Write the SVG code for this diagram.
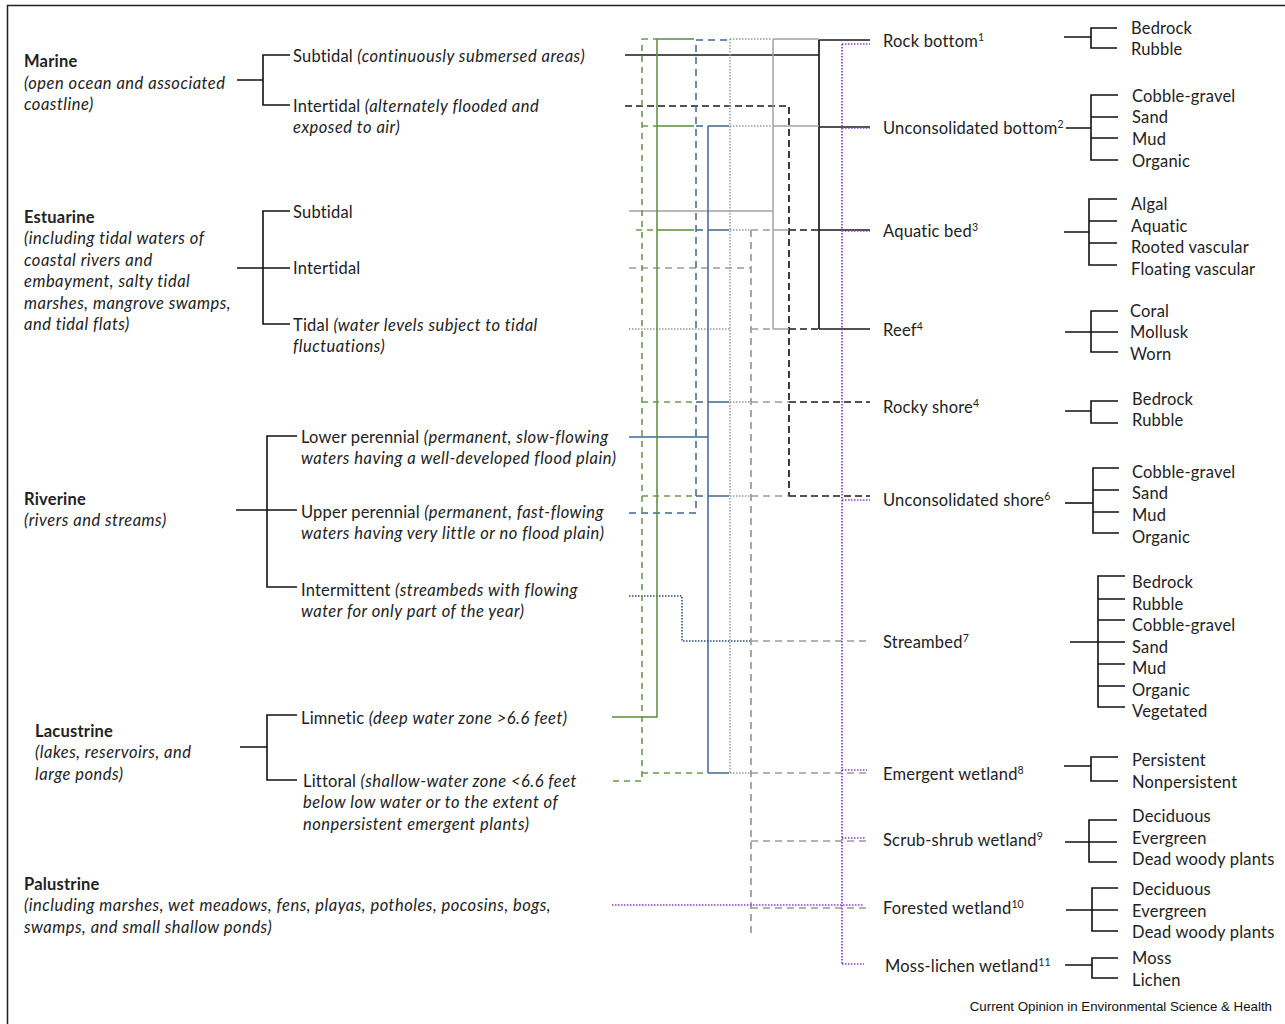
<svg xmlns="http://www.w3.org/2000/svg" width="1285" height="1024" viewBox="0 0 1285 1024">
<style>
.t{font-family:Lato,"Liberation Sans",sans-serif;font-size:16.5px;letter-spacing:0.2px;fill:#222}
.b{font-weight:bold}
.i{font-style:italic;letter-spacing:0.5px}
.sup{font-size:10.5px;letter-spacing:0}
.br{fill:none;stroke:#111;stroke-width:1.6}
.c{fill:none;stroke-width:1.5}
.ks{stroke:#1a1a1a;stroke-width:1.7}
.kd{stroke:#1a1a1a;stroke-width:1.7;stroke-dasharray:7 4}
.gs{stroke:#a3a3a3}
.gd{stroke:#9a9a9a;stroke-width:1.7;stroke-dasharray:7 5}
.gt{stroke:#9a9a9a;stroke-dasharray:1.5 1.5}
.bs{stroke:#3e6892}
.bd{stroke:#3e6892;stroke-dasharray:7 5}
.bt{stroke:#2a4a7c;stroke-dasharray:1.5 1.5}
.es{stroke:#5b8c3a}
.ed{stroke:#6a9a45;stroke-width:1.6;stroke-dasharray:6 5}
.pt{stroke:#8a3fd0;stroke-width:1.7;stroke-dasharray:1.5 1.5}
</style>
<rect x="7.5" y="5.5" width="1290" height="1030" fill="#fff" stroke="#222" stroke-width="1.5"/>

<g id="connectors">
  <!-- Marine subtidal: black solid -->
  <path class="c ks" d="M625,55 H819 M819,40 V329 M819,40 H870 M819,127 H870 M819,230 H870 M819,329 H870"/>
  <!-- Marine intertidal: black dashed -->
  <path class="c kd" d="M625,106 H789 V496 M789,230 H819 M789,329 H819 M789,402 H870 M789,496 H870"/>
  <!-- Estuarine subtidal: gray solid -->
  <path class="c gs" d="M629,211 H773 M773,39 V329 M773,39 H819 M773,126 H819 M773,230 H789 M773,329 H789"/>
  <!-- Estuarine intertidal: gray dashed -->
  <path class="c gd" d="M629,268 H751 M751,230 V935 M751,230 H773 M751,329 H773 M751,402 H789 M751,496 H789 M751,641 H870 M751,773 H870 M751,841 H870 M751,908 H870"/>
  <!-- Estuarine tidal: gray dotted -->
  <path class="c gt" d="M629,329 H730 M730,39 V773 M730,39 H772 M730,126 H772 M730,230 H751 M730,402 H751 M730,496 H751 M730,773 H751"/>
  <!-- Riverine lower perennial: blue solid -->
  <path class="c bs" d="M629,437 H708 M708,126 V773 M708,126 H729 M708,230 H729 M708,402 H729 M708,496 H729 M708,773 H729"/>
  <!-- Riverine upper perennial: blue dashed -->
  <path class="c bd" d="M629,513 H696 V40 M696,40 H729 M696,126 H708 M696,230 H708 M696,402 H708 M696,496 H708"/>
  <!-- Riverine intermittent: blue dotted -->
  <path class="c bt" d="M629,596 H682 V641 H750"/>
  <!-- Lacustrine limnetic: green solid -->
  <path class="c es" d="M612,717 H657 V39 M657,39 H694 M657,126 H694 M657,230 H694"/>
  <!-- Lacustrine littoral: green dashed -->
  <path class="c ed" d="M613,781 H642 V39 M642,39 H657 M642,126 H657 M636,230 H657 M642,402 H696 M642,496 H696 M642,773 H704"/>
  <!-- Palustrine: purple dotted -->
  <path class="c pt" d="M612,905 H864 M842,44 V964 M842,44 H870 M842,128 H870 M842,231 H870 M842,500 H870 M842,770 H867 M842,838 H866 M842,964 H864"/>
</g>

<g id="marine">
  <text class="t b" x="24" y="67">Marine</text>
  <text class="t i" x="24" y="88.5">(open ocean and associated</text>
  <text class="t i" x="24" y="110">coastline)</text>
  <path class="br" d="M237,80 H263 M290,55 H263 V105 H290"/>
  <text class="t" x="293" y="61.5">Subtidal <tspan class="i">(continuously submersed areas)</tspan></text>
  <text class="t" x="293" y="111.5">Intertidal <tspan class="i">(alternately flooded and</tspan></text>
  <text class="t i" x="293" y="133">exposed to air)</text>
</g>

<g id="estuarine">
  <text class="t b" x="24" y="222.5">Estuarine</text>
  <text class="t i" x="24" y="244">(including tidal waters of</text>
  <text class="t i" x="24" y="265.5">coastal rivers and</text>
  <text class="t i" x="24" y="287">embayment, salty tidal</text>
  <text class="t i" x="24" y="308.5">marshes, mangrove swamps,</text>
  <text class="t i" x="24" y="330">and tidal flats)</text>
  <path class="br" d="M237,268 H290 M290,211 H263 V324 H290"/>
  <text class="t" x="293" y="217.5">Subtidal</text>
  <text class="t" x="293" y="273.5">Intertidal</text>
  <text class="t" x="293" y="330.5">Tidal <tspan class="i">(water levels subject to tidal</tspan></text>
  <text class="t i" x="293" y="352">fluctuations)</text>
</g>

<g id="riverine">
  <text class="t b" x="24" y="504.5">Riverine</text>
  <text class="t i" x="24" y="526">(rivers and streams)</text>
  <path class="br" d="M236,510 H297 M297,436 H267 V587 H297"/>
  <text class="t" x="301" y="442.5">Lower perennial <tspan class="i">(permanent, slow-flowing</tspan></text>
  <text class="t i" x="301" y="464">waters having a well-developed flood plain)</text>
  <text class="t" x="301" y="517.5">Upper perennial <tspan class="i">(permanent, fast-flowing</tspan></text>
  <text class="t i" x="301" y="539">waters having very little or no flood plain)</text>
  <text class="t" x="301" y="595.5">Intermittent <tspan class="i">(streambeds with flowing</tspan></text>
  <text class="t i" x="301" y="617">water for only part of the year)</text>
</g>

<g id="lacustrine">
  <text class="t b" x="35" y="736.5">Lacustrine</text>
  <text class="t i" x="35" y="758">(lakes, reservoirs, and</text>
  <text class="t i" x="35" y="779.5">large ponds)</text>
  <path class="br" d="M240,747 H267 M297,715 H267 V780 H297"/>
  <text class="t" x="301" y="723.5">Limnetic <tspan class="i">(deep water zone &gt;6.6 feet)</tspan></text>
  <text class="t" x="303" y="786.5">Littoral <tspan class="i">(shallow-water zone &lt;6.6 feet</tspan></text>
  <text class="t i" x="303" y="808">below low water or to the extent of</text>
  <text class="t i" x="303" y="829.5">nonpersistent emergent plants)</text>
</g>

<g id="palustrine">
  <text class="t b" x="24" y="889.5">Palustrine</text>
  <text class="t i" x="24" y="911">(including marshes, wet meadows, fens, playas, potholes, pocosins, bogs,</text>
  <text class="t i" x="24" y="932.5">swamps, and small shallow ponds)</text>
</g>

<g id="rock-bottom">
  <text class="t" x="883" y="46.5">Rock bottom<tspan class="sup" dy="-6">1</tspan></text>
  <path class="br" d="M1064,37 H1091 M1117,28 H1091 V48 H1117"/>
  <text class="t" x="1131" y="33.5">Bedrock</text>
  <text class="t" x="1131" y="54.5">Rubble</text>
</g>

<g id="unconsolidated-bottom">
  <text class="t" x="883" y="133.5">Unconsolidated bottom<tspan class="sup" dy="-6">2</tspan></text>
  <path class="br" d="M1066,128 H1091 M1118,95 H1091 V160 H1118 M1091,117 H1118 M1091,138 H1118"/>
  <text class="t" x="1132" y="101.5">Cobble-gravel</text>
  <text class="t" x="1132" y="122.5">Sand</text>
  <text class="t" x="1132" y="144.5">Mud</text>
  <text class="t" x="1132" y="166.5">Organic</text>
</g>

<g id="aquatic-bed">
  <text class="t" x="883" y="236.5">Aquatic bed<tspan class="sup" dy="-6">3</tspan></text>
  <path class="br" d="M1064,232 H1089 M1117,199 H1089 V265 H1117 M1089,221 H1117 M1089,243 H1117"/>
  <text class="t" x="1131" y="209.5">Algal</text>
  <text class="t" x="1131" y="231.5">Aquatic</text>
  <text class="t" x="1131" y="252.5">Rooted vascular</text>
  <text class="t" x="1131" y="274.5">Floating vascular</text>
</g>

<g id="reef">
  <text class="t" x="883" y="335.5">Reef<tspan class="sup" dy="-6">4</tspan></text>
  <path class="br" d="M1065,332 H1118 M1118,311 H1091 V352 H1118"/>
  <text class="t" x="1130" y="316.5">Coral</text>
  <text class="t" x="1130" y="337.5">Mollusk</text>
  <text class="t" x="1130" y="359.5">Worn</text>
</g>

<g id="rocky-shore">
  <text class="t" x="883" y="412.5">Rocky shore<tspan class="sup" dy="-6">4</tspan></text>
  <path class="br" d="M1065,411 H1091 M1118,401 H1091 V423 H1118"/>
  <text class="t" x="1132" y="404.5">Bedrock</text>
  <text class="t" x="1132" y="425.5">Rubble</text>
</g>

<g id="unconsolidated-shore">
  <text class="t" x="883" y="505.5">Unconsolidated shore<tspan class="sup" dy="-6">6</tspan></text>
  <path class="br" d="M1065,503 H1093" stroke-width="2.4"/>
  <path class="br" d="M1119,468 H1093 V533 H1119 M1093,490 H1119 M1093,512 H1119"/>
  <text class="t" x="1132" y="477.5">Cobble-gravel</text>
  <text class="t" x="1132" y="498.5">Sand</text>
  <text class="t" x="1132" y="520.5">Mud</text>
  <text class="t" x="1132" y="542.5">Organic</text>
</g>

<g id="streambed">
  <text class="t" x="883" y="647.5">Streambed<tspan class="sup" dy="-6">7</tspan></text>
  <path class="br" d="M1070,642 H1098 M1125,576 H1098 V707 H1125 M1098,599 H1125 M1098,620 H1125 M1098,642 H1125 M1098,664 H1125 M1098,686 H1125"/>
  <text class="t" x="1132" y="587.5">Bedrock</text>
  <text class="t" x="1132" y="609.5">Rubble</text>
  <text class="t" x="1132" y="630.5">Cobble-gravel</text>
  <text class="t" x="1132" y="652.5">Sand</text>
  <text class="t" x="1132" y="673.5">Mud</text>
  <text class="t" x="1132" y="695.5">Organic</text>
  <text class="t" x="1132" y="716.5">Vegetated</text>
</g>

<g id="emergent-wetland">
  <text class="t" x="883" y="779.5">Emergent wetland<tspan class="sup" dy="-6">8</tspan></text>
  <path class="br" d="M1064,766 H1091 M1118,757 H1091 V781 H1118"/>
  <text class="t" x="1132" y="765.5">Persistent</text>
  <text class="t" x="1132" y="787.5">Nonpersistent</text>
</g>

<g id="scrub-shrub-wetland">
  <text class="t" x="883" y="845.5">Scrub-shrub wetland<tspan class="sup" dy="-6">9</tspan></text>
  <path class="br" d="M1065,842 H1117 M1117,820 H1089 V862 H1117"/>
  <text class="t" x="1132" y="821.5">Deciduous</text>
  <text class="t" x="1132" y="843.5">Evergreen</text>
  <text class="t" x="1132" y="864.5">Dead woody plants</text>
</g>

<g id="forested-wetland">
  <text class="t" x="883" y="913.5">Forested wetland<tspan class="sup" dy="-6">10</tspan></text>
  <path class="br" d="M1066,910 H1118 M1118,888 H1092 V931 H1118"/>
  <text class="t" x="1132" y="894.5">Deciduous</text>
  <text class="t" x="1132" y="916.5">Evergreen</text>
  <text class="t" x="1132" y="937.5">Dead woody plants</text>
</g>

<g id="moss-lichen-wetland">
  <text class="t" x="885" y="971.5">Moss-lichen wetland<tspan class="sup" dy="-6">11</tspan></text>
  <path class="br" d="M1065,965 H1092 M1118,958 H1092 V978 H1118"/>
  <text class="t" x="1132" y="963.5">Moss</text>
  <text class="t" x="1132" y="985.5">Lichen</text>
</g>

<text x="1272" y="1011" text-anchor="end" style="font-family:'Liberation Sans',Arial,sans-serif;font-size:13.3px;fill:#111">Current Opinion in Environmental Science &amp; Health</text>
</svg>
